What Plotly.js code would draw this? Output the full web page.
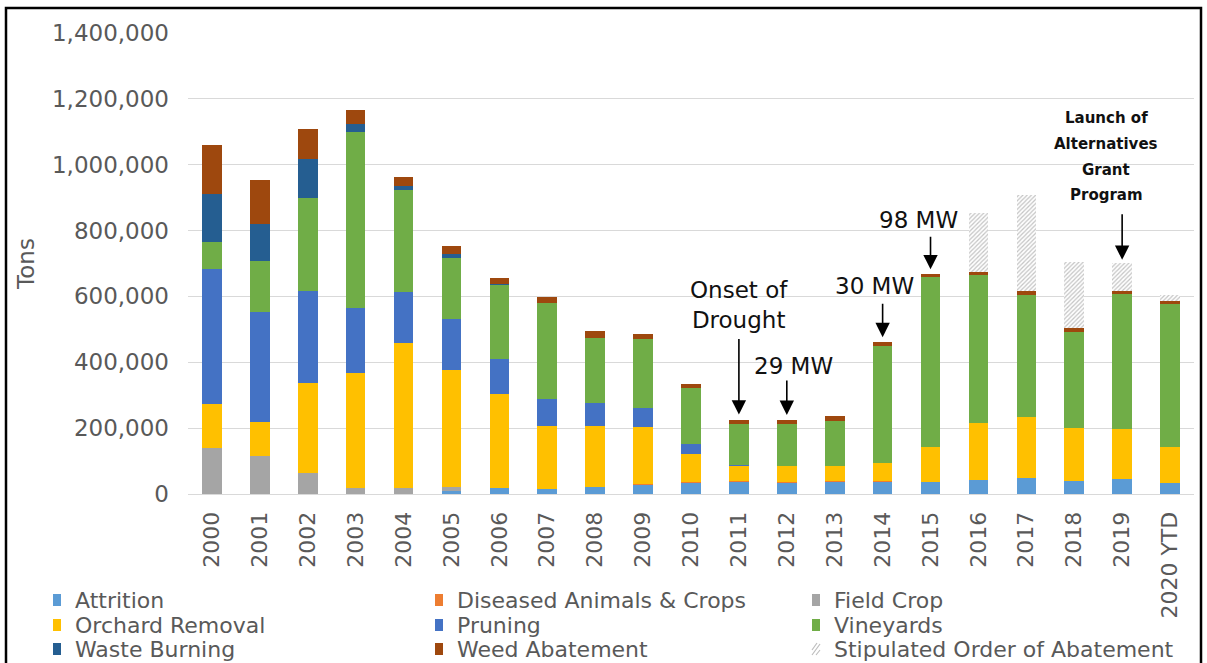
<!DOCTYPE html>
<html>
<head>
<meta charset="utf-8">
<script src="https://cdn.plot.ly/plotly-3.0.1.min.js"></script>
<style>html,body{margin:0;padding:0;background:#fff;overflow:hidden;}#chart{width:1207px;height:663px;}</style>
</head>
<body>
<div id="chart"></div>
<script>
// ---- data (tons) ----
var years = ['2000','2001','2002','2003','2004','2005','2006','2007','2008','2009','2010',
             '2011','2012','2013','2014','2015','2016','2017','2018','2019','2020 YTD'];
var attrition   = [0,0,0,0,0,8000,17000,15000,22000,27000,34000,35000,33000,35000,37000,36000,43000,50000,40000,46000,32000];
var diseased    = [0,0,0,0,0,0,0,0,0,3000,3000,4000,4000,3000,2000,0,0,0,0,0,0];
var fieldCrop   = [141000,115000,63000,17000,17000,14000,0,0,0,0,0,0,0,0,0,0,0,0,0,0,0];
var orchard     = [131000,103000,273000,349000,443000,354000,287000,191000,184000,173000,86000,46000,49000,46000,54000,108000,172000,185000,161000,151000,112000];
var pruning     = [410000,335000,280000,200000,152000,155000,105000,84000,69000,58000,30000,2000,0,0,0,0,0,0,0,0,0];
var vineyards   = [84000,154000,284000,534000,311000,187000,225000,289000,200000,210000,169000,126000,126000,138000,357000,516000,450000,369000,290000,410000,432000];
var wasteBurn   = [144000,113000,116000,25000,12000,10000,3000,0,0,0,0,0,0,0,0,0,0,0,0,0,0];
var weed        = [150000,135000,92000,41000,28000,25000,20000,20000,20000,16000,13000,13000,13000,14000,11000,7000,10000,13000,12000,10000,10000];
var stipulated  = [0,0,0,0,0,0,0,0,0,0,0,0,0,0,0,0,177000,291000,202000,85000,18000];

var seriesNames = ['Attrition','Diseased Animals & Crops','Field Crop','Orchard Removal','Pruning',
                   'Vineyards','Waste Burning','Weed Abatement','Stipulated Order of Abatement'];
var seriesData  = [attrition,diseased,fieldCrop,orchard,pruning,vineyards,wasteBurn,weed,stipulated];
var seriesColors= ['#5B9BD5','#ED7D31','#A5A5A5','#FFC000','#4472C4','#70AD47','#255E91','#9E480E','#ffffff'];

var FONT = 'DejaVu Sans, Liberation Sans, Arial, sans-serif';
var W = 1207, H = 663, ML = 188, MR = 13, MT = 33, MB = 169;
var PW = W - ML - MR, PH = H - MT - MB;
function px2x(px){ return (px - ML) / PW; }
function py2y(py){ return (H - MB - py) / PH; }

var traces = seriesNames.map(function(n,i){
  var t = {type:'bar', name:n, x:years, y:seriesData[i], showlegend:false,
           marker:{color:seriesColors[i], line:{width:0}}, hoverinfo:'x+y+name'};
  if(n==='Stipulated Order of Abatement'){
    t.marker.pattern = {shape:'/', fgcolor:'#c4c4c4', bgcolor:'#ffffff', size:3, solidity:0.4};
  }
  return t;
});

// bar totals (for annotation anchoring)
var totals = years.map(function(_,j){ return seriesData.reduce(function(s,a){return s+a[j];},0); });
function idx(yr){ return years.indexOf(yr); }
function tot(yr){ return totals[idx(yr)]; }

var ann = [], shapes = [];
function arrow(yr, len, standoff){
  ann.push({x:idx(yr), y:tot(yr), xref:'x', yref:'y', text:'', showarrow:true,
            ax:0, ay:-len, arrowhead:2, arrowsize:1.8, arrowwidth:1.6, arrowcolor:'#000', standoff:standoff});
}
function label(yr, txt, yshift, xshift, size, bold){
  ann.push({x:idx(yr), y:tot(yr), xref:'x', yref:'y', text: bold ? '<b>'+txt+'</b>' : txt, showarrow:false,
            yshift:yshift, xshift:xshift, xanchor:'center', yanchor:'middle',
            font:{family:FONT, size:size, color:'#111'}});
}
label('2011','Onset of<br>Drought',115,0,23,false);
arrow('2011',82,5);
label('2012','29 MW',54,7,23,false);
arrow('2012',41,5);
label('2014','30 MW',56,-8,23,false);
arrow('2014',40,5);
label('2015','98 MW',54,-12,23,false);
arrow('2015',39,5);
label('2019','Launch of',145,-16,15,true);
label('2019','Alternatives',119,-16,15,true);
label('2019','Grant',93,-16,15,true);
label('2019','Program',68,-16,15,true);
arrow('2019',50,3);

// legend (3 columns x 3 rows), drawn below the chart
var legCols = [53, 435, 812], legRows = [600, 625, 649];
seriesNames.forEach(function(n,i){
  var sx = legCols[i%3], cy = legRows[Math.floor(i/3)];
  var isHatch = (n==='Stipulated Order of Abatement');
  shapes.push({type:'rect', xref:'paper', yref:'paper', layer:'above',
               x0:px2x(sx), x1:px2x(sx+8), y0:py2y(cy+6), y1:py2y(cy-6),
               fillcolor: isHatch ? '#ffffff' : seriesColors[i], line:{width:0}});
  if(isHatch){
    var segs = [[sx, cy+1, sx+5, cy-6], [sx, cy+6, sx+8, cy-5], [sx+4, cy+6, sx+8, cy+1]];
    segs.forEach(function(s){
      shapes.push({type:'line', xref:'paper', yref:'paper', layer:'above',
                   x0:px2x(s[0]), y0:py2y(s[1]), x1:px2x(s[2]), y1:py2y(s[3]),
                   line:{color:'#bdbdbd', width:1.2}});
    });
  }
  ann.push({xref:'paper', yref:'paper', x:px2x(sx+20), y:py2y(cy), xanchor:'left', yanchor:'middle',
            text:n, showarrow:false, font:{family:FONT, size:22, color:'#595959'}});
});

// outer frame (open at the bottom, as in the reference)
shapes.push({type:'path', xref:'paper', yref:'paper', layer:'above',
             path:'M '+px2x(6)+','+py2y(700)+' L '+px2x(6)+','+py2y(8)+' L '+px2x(1201)+','+py2y(8)+' L '+px2x(1201)+','+py2y(700),
             line:{color:'#000', width:2.5}, fillcolor:'rgba(0,0,0,0)'});

var layout = {
  width:W, height:H,
  margin:{l:ML, r:MR, t:MT, b:MB, pad:0},
  paper_bgcolor:'#ffffff', plot_bgcolor:'#ffffff',
  barmode:'stack', bargap:0.59,
  font:{family:FONT, color:'#595959'},
  showlegend:false,
  xaxis:{type:'category', tickangle:-90, tickfont:{family:FONT, size:22, color:'#595959'},
         showgrid:false, showline:true, linecolor:'#d9d9d9', linewidth:1, ticks:'', automargin:false,
         ticklabelstandoff:8},
  yaxis:{range:[0,1400000], dtick:200000, tickformat:',', tickfont:{family:FONT, size:23, color:'#595959'},
         showgrid:true, gridcolor:'#d9d9d9', gridwidth:1, zeroline:false, ticks:'', ticklabelstandoff:18,
         title:{text:'Tons', font:{family:FONT, size:23, color:'#595959'}, standoff:10}, automargin:false},
  annotations:ann,
  shapes:shapes
};

Plotly.newPlot('chart', traces, layout, {displayModeBar:false, staticPlot:true});
</script>
</body>
</html>
